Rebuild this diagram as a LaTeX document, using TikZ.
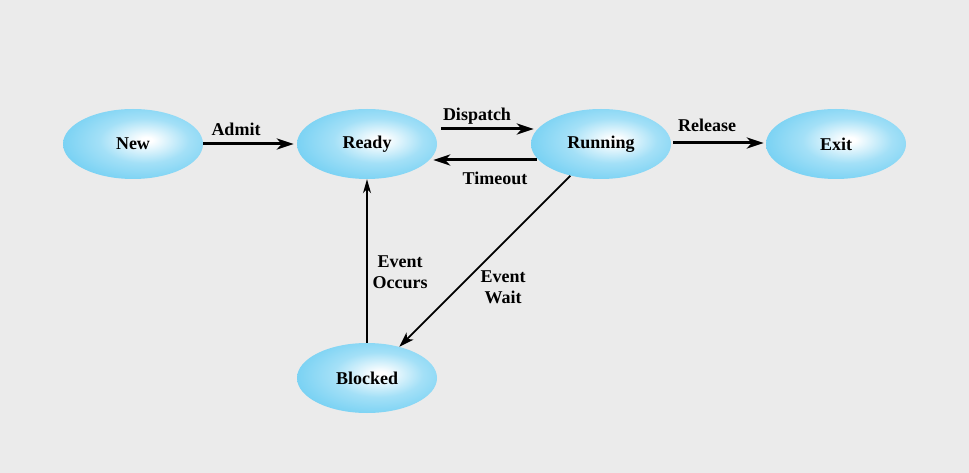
\documentclass[tikz,border=0pt]{standalone}
\usepackage{fontspec}
\setmainfont{Liberation Serif}
\usetikzlibrary{shapes.geometric,arrows.meta}
\definecolor{bg}{HTML}{EBEBEB}
\definecolor{cyanedge}{HTML}{48C1EF}
\pgfdeclareradialshading{stateshade}{\pgfpoint{5bp}{3bp}}{color(0bp)=(white); color(2bp)=(white); color(16bp)=(cyanedge!50!white); color(38bp)=(cyanedge!90!white); color(58bp)=(cyanedge); color(80bp)=(cyanedge)}
\tikzset{
  state/.style={ellipse, minimum width=140pt, minimum height=70pt, inner sep=0pt, shading=stateshade, font=\fontsize{18}{21}\selectfont\bfseries},
  lbl/.style={font=\fontsize{18}{21}\selectfont\bfseries, align=center, inner sep=0pt},
  thickarrow/.style={line width=3pt, -{Stealth[length=17pt,width=11pt,inset=5pt]}},
  thinarrow/.style={line width=1.3pt, -{Stealth[length=14pt,width=8pt,inset=4pt]}},
  midarrow/.style={line width=1.9pt, -{Stealth[length=15pt,width=10pt,inset=4pt]}}
}
\begin{document}
\begin{tikzpicture}[x=1pt,y=-1pt]
\path[fill=bg] (0,0) rectangle (969,473);
\node[state] (new) at (133,144) {New};
\node[state] (ready) at (367,144) {Ready};
\node[state] (running) at (601,144) {Running};
\node[state] (exit) at (836,144) {Exit};
\node[state] (blocked) at (367,378) {Blocked};

\draw[thickarrow, shorten >=3pt] (new) -- (ready);
\draw[thickarrow, shorten <=4pt, shorten >=-3pt] ([yshift=15pt]ready.east) -- ([yshift=15pt]running.west);
\draw[thickarrow, shorten <=-6pt, shorten >=-4pt] ([yshift=-16pt]running.west) -- ([yshift=-16pt]ready.east);
\draw[thickarrow, shorten <=2pt, shorten >=2pt] ([yshift=1pt]running.east) -- ([yshift=1pt]exit.west);
\draw[thinarrow] (blocked) -- (ready);
\draw[midarrow] (running.226) -- (blocked.44);

\node[lbl] (ladmit) at (236,129) {Admit};
\node[lbl] (ldispatch) at (477,116) {Dispatch};
\node[lbl] (ltimeout) at (495,178) {Timeout};
\node[lbl] (lrelease) at (707,125) {Release};
\node[lbl] (loccurs) at (400,272) {Event\\Occurs};
\node[lbl] (lwait) at (503,287) {Event\\Wait};
\end{tikzpicture}
\end{document}
